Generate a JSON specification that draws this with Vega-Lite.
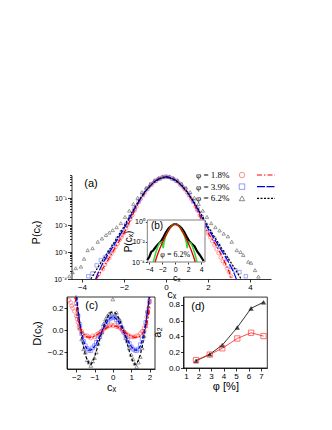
{
"$schema":"https://vega.github.io/schema/vega-lite/v6.json",
"width":332,"height":430,"padding":0,"autosize":{"type":"none"},
"config":{"view":{"stroke":null},"font":"Liberation Sans",
"axis":{"grid":false,"domainColor":"#000","tickColor":"#000","labelColor":"#000","titleColor":"#000","labelFont":"Liberation Sans","titleFont":"Liberation Sans","titleFontWeight":"normal","labelFontSize":8,"titleFontSize":11,"tickSize":3,"labelPadding":1,"domainWidth":0.8,"tickWidth":0.8}},
"datasets":{
"aPts":[
{"c":-3.2,"p":0.00015,"s":"1.8"},{"c":-3.0,"p":0.00023,"s":"1.8"},{"c":-2.9,"p":0.00034,"s":"1.8"},{"c":-2.8,"p":0.0005,"s":"1.8"},{"c":-2.7,"p":0.0006,"s":"1.8"},{"c":-2.6,"p":0.00083,"s":"1.8"},{"c":-2.5,"p":0.0011,"s":"1.8"},{"c":-2.4,"p":0.0015,"s":"1.8"},{"c":-2.3,"p":0.002,"s":"1.8"},{"c":-2.2,"p":0.0028,"s":"1.8"},{"c":-2.1,"p":0.0037,"s":"1.8"},{"c":-2.0,"p":0.005,"s":"1.8"},{"c":-1.9,"p":0.0075,"s":"1.8"},{"c":-1.8,"p":0.0105,"s":"1.8"},{"c":-1.7,"p":0.016,"s":"1.8"},{"c":-1.6,"p":0.023,"s":"1.8"},{"c":-1.5,"p":0.034,"s":"1.8"},{"c":-1.4,"p":0.048,"s":"1.8"},{"c":-1.2,"p":0.091,"s":"1.8"},{"c":-1.0,"p":0.158,"s":"1.8"},{"c":-0.8,"p":0.257,"s":"1.8"},{"c":-0.6,"p":0.372,"s":"1.8"},{"c":-0.4,"p":0.49,"s":"1.8"},{"c":-0.2,"p":0.589,"s":"1.8"},{"c":0,"p":0.631,"s":"1.8"},{"c":0.2,"p":0.589,"s":"1.8"},{"c":0.4,"p":0.49,"s":"1.8"},{"c":0.6,"p":0.372,"s":"1.8"},{"c":0.8,"p":0.257,"s":"1.8"},{"c":1.0,"p":0.158,"s":"1.8"},{"c":1.2,"p":0.091,"s":"1.8"},{"c":1.4,"p":0.048,"s":"1.8"},{"c":1.5,"p":0.034,"s":"1.8"},{"c":1.6,"p":0.023,"s":"1.8"},{"c":1.7,"p":0.0155,"s":"1.8"},{"c":1.8,"p":0.0102,"s":"1.8"},{"c":1.9,"p":0.007,"s":"1.8"},{"c":2.0,"p":0.0048,"s":"1.8"},{"c":2.1,"p":0.0035,"s":"1.8"},{"c":2.2,"p":0.0025,"s":"1.8"},{"c":2.3,"p":0.0018,"s":"1.8"},{"c":2.4,"p":0.00126,"s":"1.8"},{"c":2.5,"p":0.0009,"s":"1.8"},{"c":2.6,"p":0.00063,"s":"1.8"},{"c":2.7,"p":0.00046,"s":"1.8"},{"c":2.8,"p":0.00036,"s":"1.8"},{"c":2.9,"p":0.00025,"s":"1.8"},{"c":3.0,"p":0.00018,"s":"1.8"},{"c":3.1,"p":0.000126,"s":"1.8"},
{"c":-3.7,"p":0.000126,"s":"3.9"},{"c":-3.5,"p":0.00016,"s":"3.9"},{"c":-3.3,"p":0.00032,"s":"3.9"},{"c":-3.1,"p":0.0005,"s":"3.9"},{"c":-2.9,"p":0.00063,"s":"3.9"},{"c":-2.7,"p":0.001,"s":"3.9"},{"c":-2.5,"p":0.0017,"s":"3.9"},{"c":-2.3,"p":0.0031,"s":"3.9"},{"c":-2.1,"p":0.0055,"s":"3.9"},{"c":-1.9,"p":0.0102,"s":"3.9"},{"c":-1.7,"p":0.02,"s":"3.9"},{"c":-1.5,"p":0.0398,"s":"3.9"},{"c":-1.3,"p":0.0741,"s":"3.9"},{"c":-1.1,"p":0.129,"s":"3.9"},{"c":-0.9,"p":0.214,"s":"3.9"},{"c":-0.7,"p":0.316,"s":"3.9"},{"c":-0.5,"p":0.437,"s":"3.9"},{"c":-0.3,"p":0.525,"s":"3.9"},{"c":-0.1,"p":0.603,"s":"3.9"},{"c":0.1,"p":0.603,"s":"3.9"},{"c":0.3,"p":0.525,"s":"3.9"},{"c":0.5,"p":0.437,"s":"3.9"},{"c":0.7,"p":0.316,"s":"3.9"},{"c":0.9,"p":0.214,"s":"3.9"},{"c":1.1,"p":0.129,"s":"3.9"},{"c":1.3,"p":0.0741,"s":"3.9"},{"c":1.5,"p":0.0398,"s":"3.9"},{"c":1.7,"p":0.02,"s":"3.9"},{"c":1.9,"p":0.0102,"s":"3.9"},{"c":2.1,"p":0.0055,"s":"3.9"},{"c":2.3,"p":0.0031,"s":"3.9"},{"c":2.5,"p":0.0017,"s":"3.9"},{"c":2.7,"p":0.00098,"s":"3.9"},{"c":2.9,"p":0.00054,"s":"3.9"},{"c":3.1,"p":0.00028,"s":"3.9"},{"c":3.3,"p":0.00021,"s":"3.9"},{"c":3.5,"p":0.00018,"s":"3.9"},{"c":3.8,"p":0.000126,"s":"3.9"},
{"c":-4.6,"p":0.000126,"s":"6.2"},{"c":-4.45,"p":0.000178,"s":"6.2"},{"c":-4.3,"p":0.000251,"s":"6.2"},{"c":-4.05,"p":0.000288,"s":"6.2"},{"c":-3.9,"p":0.000562,"s":"6.2"},{"c":-3.73,"p":0.00117,"s":"6.2"},{"c":-3.5,"p":0.00138,"s":"6.2"},{"c":-3.25,"p":0.0024,"s":"6.2"},{"c":-3.05,"p":0.00316,"s":"6.2"},{"c":-2.86,"p":0.00427,"s":"6.2"},{"c":-2.7,"p":0.00525,"s":"6.2"},{"c":-2.54,"p":0.00646,"s":"6.2"},{"c":-2.35,"p":0.00832,"s":"6.2"},{"c":-2.15,"p":0.0117,"s":"6.2"},{"c":-1.95,"p":0.02,"s":"6.2"},{"c":-1.75,"p":0.0339,"s":"6.2"},{"c":-1.55,"p":0.0603,"s":"6.2"},{"c":-1.35,"p":0.102,"s":"6.2"},{"c":-1.15,"p":0.166,"s":"6.2"},{"c":-0.95,"p":0.24,"s":"6.2"},{"c":-0.75,"p":0.331,"s":"6.2"},{"c":-0.55,"p":0.437,"s":"6.2"},{"c":-0.35,"p":0.537,"s":"6.2"},{"c":-0.15,"p":0.603,"s":"6.2"},{"c":0.15,"p":0.603,"s":"6.2"},{"c":0.35,"p":0.537,"s":"6.2"},{"c":0.55,"p":0.437,"s":"6.2"},{"c":0.75,"p":0.331,"s":"6.2"},{"c":0.95,"p":0.24,"s":"6.2"},{"c":1.15,"p":0.166,"s":"6.2"},{"c":1.35,"p":0.102,"s":"6.2"},{"c":1.55,"p":0.0603,"s":"6.2"},{"c":1.75,"p":0.0339,"s":"6.2"},{"c":1.95,"p":0.02,"s":"6.2"},{"c":2.15,"p":0.0117,"s":"6.2"},{"c":2.35,"p":0.00832,"s":"6.2"},{"c":2.55,"p":0.00631,"s":"6.2"},{"c":2.75,"p":0.00479,"s":"6.2"},{"c":2.95,"p":0.0038,"s":"6.2"},{"c":3.13,"p":0.0024,"s":"6.2"},{"c":3.37,"p":0.00117,"s":"6.2"},{"c":3.55,"p":0.001,"s":"6.2"},{"c":3.68,"p":0.000776,"s":"6.2"},{"c":3.92,"p":0.000437,"s":"6.2"},{"c":4.05,"p":0.000398,"s":"6.2"},{"c":4.24,"p":0.000214,"s":"6.2"},{"c":4.4,"p":0.000123,"s":"6.2"}
],
"aLines":[
{"c":-3.32,"p":0.0001,"s":"1.8"},{"c":-3.25,"p":0.00012,"s":"1.8"},{"c":-3.0,"p":0.000251,"s":"1.8"},{"c":-2.75,"p":0.000525,"s":"1.8"},{"c":-2.5,"p":0.00112,"s":"1.8"},{"c":-2.25,"p":0.0024,"s":"1.8"},{"c":-2.0,"p":0.00501,"s":"1.8"},{"c":-1.75,"p":0.0126,"s":"1.8"},{"c":-1.5,"p":0.0339,"s":"1.8"},{"c":-1.25,"p":0.0794,"s":"1.8"},{"c":-1.0,"p":0.158,"s":"1.8"},{"c":-0.75,"p":0.282,"s":"1.8"},{"c":-0.5,"p":0.437,"s":"1.8"},{"c":-0.25,"p":0.562,"s":"1.8"},{"c":0,"p":0.631,"s":"1.8"},{"c":0.25,"p":0.562,"s":"1.8"},{"c":0.5,"p":0.437,"s":"1.8"},{"c":0.75,"p":0.282,"s":"1.8"},{"c":1.0,"p":0.158,"s":"1.8"},{"c":1.25,"p":0.0794,"s":"1.8"},{"c":1.5,"p":0.0339,"s":"1.8"},{"c":1.75,"p":0.0126,"s":"1.8"},{"c":2.0,"p":0.00501,"s":"1.8"},{"c":2.25,"p":0.0026,"s":"1.8"},{"c":2.5,"p":0.00126,"s":"1.8"},{"c":2.75,"p":0.0005,"s":"1.8"},{"c":3.0,"p":0.00019,"s":"1.8"},{"c":3.12,"p":0.0001,"s":"1.8"},
{"c":-3.35,"p":0.0001,"s":"3.9"},{"c":-3.25,"p":0.000158,"s":"3.9"},{"c":-3.0,"p":0.000398,"s":"3.9"},{"c":-2.75,"p":0.000851,"s":"3.9"},{"c":-2.5,"p":0.0017,"s":"3.9"},{"c":-2.25,"p":0.00355,"s":"3.9"},{"c":-2.0,"p":0.00741,"s":"3.9"},{"c":-1.75,"p":0.017,"s":"3.9"},{"c":-1.5,"p":0.0398,"s":"3.9"},{"c":-1.25,"p":0.0851,"s":"3.9"},{"c":-1.0,"p":0.17,"s":"3.9"},{"c":-0.75,"p":0.288,"s":"3.9"},{"c":-0.5,"p":0.437,"s":"3.9"},{"c":-0.25,"p":0.55,"s":"3.9"},{"c":0,"p":0.617,"s":"3.9"},{"c":0.25,"p":0.55,"s":"3.9"},{"c":0.5,"p":0.437,"s":"3.9"},{"c":0.75,"p":0.288,"s":"3.9"},{"c":1.0,"p":0.17,"s":"3.9"},{"c":1.25,"p":0.0851,"s":"3.9"},{"c":1.5,"p":0.0398,"s":"3.9"},{"c":1.75,"p":0.017,"s":"3.9"},{"c":2.0,"p":0.00741,"s":"3.9"},{"c":2.25,"p":0.00355,"s":"3.9"},{"c":2.5,"p":0.0017,"s":"3.9"},{"c":2.75,"p":0.000851,"s":"3.9"},{"c":3.0,"p":0.000398,"s":"3.9"},{"c":3.25,"p":0.000158,"s":"3.9"},{"c":3.35,"p":0.0001,"s":"3.9"},
{"c":-3.58,"p":0.0001,"s":"6.2"},{"c":-3.5,"p":0.000126,"s":"6.2"},{"c":-3.25,"p":0.000263,"s":"6.2"},{"c":-3.0,"p":0.000525,"s":"6.2"},{"c":-2.75,"p":0.00105,"s":"6.2"},{"c":-2.5,"p":0.00209,"s":"6.2"},{"c":-2.25,"p":0.00427,"s":"6.2"},{"c":-2.0,"p":0.00891,"s":"6.2"},{"c":-1.75,"p":0.02,"s":"6.2"},{"c":-1.5,"p":0.0437,"s":"6.2"},{"c":-1.25,"p":0.0912,"s":"6.2"},{"c":-1.0,"p":0.174,"s":"6.2"},{"c":-0.75,"p":0.288,"s":"6.2"},{"c":-0.5,"p":0.427,"s":"6.2"},{"c":-0.25,"p":0.537,"s":"6.2"},{"c":0,"p":0.603,"s":"6.2"},{"c":0.25,"p":0.537,"s":"6.2"},{"c":0.5,"p":0.427,"s":"6.2"},{"c":0.75,"p":0.288,"s":"6.2"},{"c":1.0,"p":0.174,"s":"6.2"},{"c":1.25,"p":0.0912,"s":"6.2"},{"c":1.5,"p":0.0437,"s":"6.2"},{"c":1.75,"p":0.02,"s":"6.2"},{"c":2.0,"p":0.00891,"s":"6.2"},{"c":2.25,"p":0.00427,"s":"6.2"},{"c":2.5,"p":0.00209,"s":"6.2"},{"c":2.75,"p":0.00105,"s":"6.2"},{"c":3.0,"p":0.000525,"s":"6.2"},{"c":3.25,"p":0.000263,"s":"6.2"},{"c":3.5,"p":0.000126,"s":"6.2"},{"c":3.58,"p":0.0001,"s":"6.2"}
],
"legend":[{"row":1,"s":"1.8","label":"φ = 1.8%"},{"row":2,"s":"3.9","label":"φ = 3.9%"},{"row":3,"s":"6.2","label":"φ = 6.2%"}],
"bBlack":[{"c":-4.3,"p":0.000158},{"c":-4.0,"p":0.000316},{"c":-3.7,"p":0.001},{"c":-3.4,"p":0.00141},{"c":-3.0,"p":0.00316},{"c":-2.6,"p":0.00631},{"c":-2.2,"p":0.0112},{"c":-1.8,"p":0.0316},{"c":-1.4,"p":0.1},{"c":-1.0,"p":0.24},{"c":-0.6,"p":0.417},{"c":-0.2,"p":0.603},{"c":0,"p":0.631},{"c":0.2,"p":0.603},{"c":0.6,"p":0.417},{"c":1.0,"p":0.24},{"c":1.4,"p":0.1},{"c":1.8,"p":0.0316},{"c":2.2,"p":0.0112},{"c":2.6,"p":0.00631},{"c":3.0,"p":0.00355},{"c":3.4,"p":0.00112},{"c":3.8,"p":0.000501},{"c":4.2,"p":0.0002},{"c":4.4,"p":0.000126}],
"bRed":[{"c":-3.1,"p":0.0001},{"c":-2.8,"p":0.000398},{"c":-2.4,"p":0.002},{"c":-2.0,"p":0.00794},{"c":-1.6,"p":0.0282},{"c":-1.2,"p":0.0891},{"c":-0.8,"p":0.24},{"c":-0.4,"p":0.479},{"c":0,"p":0.631},{"c":0.4,"p":0.479},{"c":0.8,"p":0.24},{"c":1.2,"p":0.0891},{"c":1.6,"p":0.0282},{"c":2.0,"p":0.00794},{"c":2.4,"p":0.002},{"c":2.8,"p":0.000398},{"c":3.1,"p":0.0001}],
"bGreen":[{"c":-3.4,"p":0.0001},{"c":-3.3,"p":0.000158},{"c":-3.0,"p":0.000794},{"c":-2.7,"p":0.00316},{"c":-2.4,"p":0.00794},{"c":-2.1,"p":0.01},{"c":-1.95,"p":0.00631},{"c":-1.85,"p":0.00251},{"c":-1.7,"p":0.01},{"c":-1.5,"p":0.0316},{"c":-1.2,"p":0.0891},{"c":-0.8,"p":0.251},{"c":-0.4,"p":0.5},{"c":0,"p":0.631},{"c":0.4,"p":0.5},{"c":0.8,"p":0.251},{"c":1.2,"p":0.0891},{"c":1.5,"p":0.0316},{"c":1.7,"p":0.01},{"c":1.85,"p":0.00251},{"c":1.95,"p":0.00631},{"c":2.1,"p":0.01},{"c":2.4,"p":0.00794},{"c":2.7,"p":0.00316},{"c":3.0,"p":0.000794},{"c":3.3,"p":0.000158},{"c":3.4,"p":0.0001}],
"cPts":[
{"c":-2.0,"d":0.3,"s":"6.2"},{"c":-1.9,"d":0.15,"s":"6.2"},{"c":-1.8,"d":0.02,"s":"6.2"},{"c":-1.7,"d":-0.08,"s":"6.2"},{"c":-1.6,"d":-0.17,"s":"6.2"},{"c":-1.5,"d":-0.2,"s":"6.2"},{"c":-1.4,"d":-0.27,"s":"6.2"},{"c":-1.3,"d":-0.29,"s":"6.2"},{"c":-1.2,"d":-0.32,"s":"6.2"},{"c":-1.1,"d":-0.28,"s":"6.2"},{"c":-1.0,"d":-0.25,"s":"6.2"},{"c":-0.9,"d":-0.2,"s":"6.2"},{"c":-0.8,"d":-0.12,"s":"6.2"},{"c":-0.7,"d":-0.06,"s":"6.2"},{"c":-0.6,"d":-0.02,"s":"6.2"},{"c":-0.5,"d":0.06,"s":"6.2"},{"c":-0.4,"d":0.1,"s":"6.2"},{"c":-0.3,"d":0.13,"s":"6.2"},{"c":-0.2,"d":0.15,"s":"6.2"},{"c":-0.1,"d":0.16,"s":"6.2"},{"c":0,"d":0.28,"s":"6.2"},{"c":0.1,"d":0.14,"s":"6.2"},{"c":0.2,"d":0.16,"s":"6.2"},{"c":0.3,"d":0.11,"s":"6.2"},{"c":0.4,"d":0.09,"s":"6.2"},{"c":0.5,"d":0.03,"s":"6.2"},{"c":0.6,"d":-0.01,"s":"6.2"},{"c":0.7,"d":-0.07,"s":"6.2"},{"c":0.8,"d":-0.1,"s":"6.2"},{"c":0.9,"d":-0.16,"s":"6.2"},{"c":1.0,"d":-0.22,"s":"6.2"},{"c":1.1,"d":-0.26,"s":"6.2"},{"c":1.2,"d":-0.3,"s":"6.2"},{"c":1.3,"d":-0.33,"s":"6.2"},{"c":1.4,"d":-0.29,"s":"6.2"},{"c":1.5,"d":-0.24,"s":"6.2"},{"c":1.6,"d":-0.16,"s":"6.2"},{"c":1.7,"d":-0.05,"s":"6.2"},{"c":1.8,"d":0.04,"s":"6.2"},{"c":1.9,"d":0.17,"s":"6.2"},
{"c":-2.0,"d":0.24,"s":"3.9"},{"c":-1.9,"d":0.13,"s":"3.9"},{"c":-1.8,"d":0.05,"s":"3.9"},{"c":-1.7,"d":-0.03,"s":"3.9"},{"c":-1.6,"d":-0.1,"s":"3.9"},{"c":-1.5,"d":-0.14,"s":"3.9"},{"c":-1.4,"d":-0.165,"s":"3.9"},{"c":-1.3,"d":-0.18,"s":"3.9"},{"c":-1.2,"d":-0.185,"s":"3.9"},{"c":-1.1,"d":-0.16,"s":"3.9"},{"c":-1.0,"d":-0.14,"s":"3.9"},{"c":-0.9,"d":-0.11,"s":"3.9"},{"c":-0.8,"d":-0.08,"s":"3.9"},{"c":-0.7,"d":-0.04,"s":"3.9"},{"c":-0.6,"d":-0.01,"s":"3.9"},{"c":-0.5,"d":0.03,"s":"3.9"},{"c":-0.4,"d":0.055,"s":"3.9"},{"c":-0.3,"d":0.08,"s":"3.9"},{"c":-0.2,"d":0.1,"s":"3.9"},{"c":-0.1,"d":0.11,"s":"3.9"},{"c":0,"d":0.12,"s":"3.9"},{"c":0.1,"d":0.115,"s":"3.9"},{"c":0.2,"d":0.095,"s":"3.9"},{"c":0.3,"d":0.075,"s":"3.9"},{"c":0.4,"d":0.05,"s":"3.9"},{"c":0.5,"d":0.015,"s":"3.9"},{"c":0.6,"d":-0.02,"s":"3.9"},{"c":0.7,"d":-0.05,"s":"3.9"},{"c":0.8,"d":-0.09,"s":"3.9"},{"c":0.9,"d":-0.12,"s":"3.9"},{"c":1.0,"d":-0.15,"s":"3.9"},{"c":1.1,"d":-0.17,"s":"3.9"},{"c":1.2,"d":-0.18,"s":"3.9"},{"c":1.3,"d":-0.185,"s":"3.9"},{"c":1.4,"d":-0.17,"s":"3.9"},{"c":1.5,"d":-0.13,"s":"3.9"},{"c":1.6,"d":-0.08,"s":"3.9"},{"c":1.7,"d":-0.01,"s":"3.9"},{"c":1.8,"d":0.07,"s":"3.9"},{"c":1.9,"d":0.16,"s":"3.9"},{"c":2.0,"d":0.26,"s":"3.9"},
{"c":-2.4,"d":0.27,"s":"1.8"},{"c":-2.3,"d":0.25,"s":"1.8"},{"c":-2.25,"d":0.22,"s":"1.8"},{"c":-2.2,"d":0.2,"s":"1.8"},{"c":-2.1,"d":0.17,"s":"1.8"},{"c":-2.0,"d":0.13,"s":"1.8"},{"c":-1.95,"d":0.1,"s":"1.8"},{"c":-1.9,"d":0.07,"s":"1.8"},{"c":-1.85,"d":0.03,"s":"1.8"},{"c":-1.8,"d":0.01,"s":"1.8"},{"c":-1.7,"d":-0.01,"s":"1.8"},{"c":-1.6,"d":-0.04,"s":"1.8"},{"c":-1.5,"d":-0.05,"s":"1.8"},{"c":-1.4,"d":-0.05,"s":"1.8"},{"c":-1.3,"d":-0.06,"s":"1.8"},{"c":-1.2,"d":-0.07,"s":"1.8"},{"c":-1.1,"d":-0.05,"s":"1.8"},{"c":-1.0,"d":-0.06,"s":"1.8"},{"c":-0.9,"d":-0.04,"s":"1.8"},{"c":-0.8,"d":-0.03,"s":"1.8"},{"c":-0.7,"d":-0.02,"s":"1.8"},{"c":-0.6,"d":-0.01,"s":"1.8"},{"c":-0.5,"d":0.01,"s":"1.8"},{"c":-0.4,"d":0.02,"s":"1.8"},{"c":-0.3,"d":0.03,"s":"1.8"},{"c":-0.2,"d":0.04,"s":"1.8"},{"c":-0.1,"d":0.05,"s":"1.8"},{"c":0,"d":0.04,"s":"1.8"},{"c":0.1,"d":0.05,"s":"1.8"},{"c":0.2,"d":0.03,"s":"1.8"},{"c":0.3,"d":0.03,"s":"1.8"},{"c":0.4,"d":0.02,"s":"1.8"},{"c":0.5,"d":0.0,"s":"1.8"},{"c":0.6,"d":-0.01,"s":"1.8"},{"c":0.7,"d":-0.03,"s":"1.8"},{"c":0.8,"d":-0.04,"s":"1.8"},{"c":0.9,"d":-0.05,"s":"1.8"},{"c":1.0,"d":-0.06,"s":"1.8"},{"c":1.1,"d":-0.06,"s":"1.8"},{"c":1.2,"d":-0.06,"s":"1.8"},{"c":1.3,"d":-0.05,"s":"1.8"},{"c":1.4,"d":-0.05,"s":"1.8"},{"c":1.5,"d":-0.03,"s":"1.8"},{"c":1.6,"d":-0.01,"s":"1.8"},{"c":1.7,"d":0.02,"s":"1.8"},{"c":1.8,"d":0.05,"s":"1.8"},{"c":1.85,"d":0.12,"s":"1.8"},{"c":1.9,"d":0.17,"s":"1.8"},{"c":1.95,"d":0.2,"s":"1.8"}
],
"cLines":[
{"c":-1.98,"d":0.3,"s":"6.2"},{"c":-1.9,"d":0.18,"s":"6.2"},{"c":-1.8,"d":0.05,"s":"6.2"},{"c":-1.7,"d":-0.06,"s":"6.2"},{"c":-1.6,"d":-0.15,"s":"6.2"},{"c":-1.5,"d":-0.22,"s":"6.2"},{"c":-1.4,"d":-0.27,"s":"6.2"},{"c":-1.3,"d":-0.3,"s":"6.2"},{"c":-1.2,"d":-0.31,"s":"6.2"},{"c":-1.1,"d":-0.285,"s":"6.2"},{"c":-1.0,"d":-0.245,"s":"6.2"},{"c":-0.9,"d":-0.19,"s":"6.2"},{"c":-0.8,"d":-0.13,"s":"6.2"},{"c":-0.7,"d":-0.07,"s":"6.2"},{"c":-0.6,"d":-0.015,"s":"6.2"},{"c":-0.5,"d":0.035,"s":"6.2"},{"c":-0.4,"d":0.08,"s":"6.2"},{"c":-0.3,"d":0.115,"s":"6.2"},{"c":-0.2,"d":0.145,"s":"6.2"},{"c":-0.1,"d":0.16,"s":"6.2"},{"c":0,"d":0.165,"s":"6.2"},{"c":0.1,"d":0.16,"s":"6.2"},{"c":0.2,"d":0.145,"s":"6.2"},{"c":0.3,"d":0.115,"s":"6.2"},{"c":0.4,"d":0.08,"s":"6.2"},{"c":0.5,"d":0.035,"s":"6.2"},{"c":0.6,"d":-0.015,"s":"6.2"},{"c":0.7,"d":-0.07,"s":"6.2"},{"c":0.8,"d":-0.13,"s":"6.2"},{"c":0.9,"d":-0.19,"s":"6.2"},{"c":1.0,"d":-0.245,"s":"6.2"},{"c":1.1,"d":-0.285,"s":"6.2"},{"c":1.2,"d":-0.31,"s":"6.2"},{"c":1.3,"d":-0.3,"s":"6.2"},{"c":1.4,"d":-0.27,"s":"6.2"},{"c":1.5,"d":-0.22,"s":"6.2"},{"c":1.6,"d":-0.15,"s":"6.2"},{"c":1.7,"d":-0.06,"s":"6.2"},{"c":1.8,"d":0.05,"s":"6.2"},{"c":1.9,"d":0.18,"s":"6.2"},{"c":1.98,"d":0.3,"s":"6.2"},
{"c":-1.99,"d":0.3,"s":"3.9"},{"c":-1.9,"d":0.18,"s":"3.9"},{"c":-1.8,"d":0.07,"s":"3.9"},{"c":-1.7,"d":-0.02,"s":"3.9"},{"c":-1.6,"d":-0.09,"s":"3.9"},{"c":-1.5,"d":-0.14,"s":"3.9"},{"c":-1.4,"d":-0.17,"s":"3.9"},{"c":-1.3,"d":-0.18,"s":"3.9"},{"c":-1.2,"d":-0.18,"s":"3.9"},{"c":-1.1,"d":-0.165,"s":"3.9"},{"c":-1.0,"d":-0.145,"s":"3.9"},{"c":-0.9,"d":-0.12,"s":"3.9"},{"c":-0.8,"d":-0.085,"s":"3.9"},{"c":-0.7,"d":-0.05,"s":"3.9"},{"c":-0.6,"d":-0.015,"s":"3.9"},{"c":-0.5,"d":0.02,"s":"3.9"},{"c":-0.4,"d":0.05,"s":"3.9"},{"c":-0.3,"d":0.08,"s":"3.9"},{"c":-0.2,"d":0.1,"s":"3.9"},{"c":-0.1,"d":0.115,"s":"3.9"},{"c":0,"d":0.12,"s":"3.9"},{"c":0.1,"d":0.115,"s":"3.9"},{"c":0.2,"d":0.1,"s":"3.9"},{"c":0.3,"d":0.08,"s":"3.9"},{"c":0.4,"d":0.05,"s":"3.9"},{"c":0.5,"d":0.02,"s":"3.9"},{"c":0.6,"d":-0.015,"s":"3.9"},{"c":0.7,"d":-0.05,"s":"3.9"},{"c":0.8,"d":-0.085,"s":"3.9"},{"c":0.9,"d":-0.12,"s":"3.9"},{"c":1.0,"d":-0.145,"s":"3.9"},{"c":1.1,"d":-0.165,"s":"3.9"},{"c":1.2,"d":-0.18,"s":"3.9"},{"c":1.3,"d":-0.18,"s":"3.9"},{"c":1.4,"d":-0.17,"s":"3.9"},{"c":1.5,"d":-0.14,"s":"3.9"},{"c":1.6,"d":-0.09,"s":"3.9"},{"c":1.7,"d":-0.02,"s":"3.9"},{"c":1.8,"d":0.07,"s":"3.9"},{"c":1.9,"d":0.18,"s":"3.9"},{"c":1.99,"d":0.3,"s":"3.9"},
{"c":-2.05,"d":0.3,"s":"1.8"},{"c":-2.0,"d":0.22,"s":"1.8"},{"c":-1.9,"d":0.09,"s":"1.8"},{"c":-1.8,"d":0.025,"s":"1.8"},{"c":-1.7,"d":-0.01,"s":"1.8"},{"c":-1.6,"d":-0.035,"s":"1.8"},{"c":-1.5,"d":-0.05,"s":"1.8"},{"c":-1.4,"d":-0.06,"s":"1.8"},{"c":-1.2,"d":-0.065,"s":"1.8"},{"c":-1.0,"d":-0.055,"s":"1.8"},{"c":-0.8,"d":-0.035,"s":"1.8"},{"c":-0.6,"d":-0.01,"s":"1.8"},{"c":-0.4,"d":0.015,"s":"1.8"},{"c":-0.2,"d":0.035,"s":"1.8"},{"c":0,"d":0.04,"s":"1.8"},{"c":0.2,"d":0.035,"s":"1.8"},{"c":0.4,"d":0.015,"s":"1.8"},{"c":0.6,"d":-0.01,"s":"1.8"},{"c":0.8,"d":-0.035,"s":"1.8"},{"c":1.0,"d":-0.055,"s":"1.8"},{"c":1.2,"d":-0.065,"s":"1.8"},{"c":1.4,"d":-0.06,"s":"1.8"},{"c":1.5,"d":-0.05,"s":"1.8"},{"c":1.6,"d":-0.035,"s":"1.8"},{"c":1.7,"d":-0.01,"s":"1.8"},{"c":1.8,"d":0.025,"s":"1.8"},{"c":1.9,"d":0.09,"s":"1.8"},{"c":2.0,"d":0.22,"s":"1.8"},{"c":2.05,"d":0.3,"s":"1.8"}
],
"dTri":[{"phi":1.8,"a2":0.09},{"phi":2.9,"a2":0.175},{"phi":3.9,"a2":0.29},{"phi":5.1,"a2":0.515},{"phi":6.2,"a2":0.757},{"phi":7.2,"a2":0.835}],
"dSq":[{"phi":1.8,"a2":0.1},{"phi":2.9,"a2":0.17},{"phi":3.9,"a2":0.25},{"phi":5.1,"a2":0.375},{"phi":6.2,"a2":0.447},{"phi":7.2,"a2":0.405}]
},
"layer":[
{"layer":[
 {"data":{"name":"aPts"},"mark":{"type":"point","filled":false,"size":12,"strokeWidth":0.7},
  "encoding":{"x":{"field":"c","type":"quantitative","scale":{"domain":[-4.5,5],"range":[71.5,271],"nice":false,"zero":false},
    "axis":{"orient":"bottom","offset":-151,"values":[-4,-2,0,2,4],"title":"cₓ","titleFontSize":11,"titlePadding":-3}},
   "y":{"field":"p","type":"quantitative","scale":{"type":"log","domain":[0.0001,0.7],"range":[279,175.2],"nice":false},
    "axis":{"orient":"left","offset":-71.5,"title":"P(cₓ)","titleFontSize":11,"titleX":-30,"titleY":232,"labelOverlap":false,"labelFontSize":7,
     "values":[0.0001,0.0002,0.0003,0.0004,0.0005,0.0006,0.0007,0.0008,0.0009,0.001,0.002,0.003,0.004,0.005,0.006,0.007,0.008,0.009,0.01,0.02,0.03,0.04,0.05,0.06,0.07,0.08,0.09,0.1,0.2,0.3,0.4,0.5,0.6,0.7],
     "labelExpr":"datum.value == 0.1 ? '10⁻¹' : datum.value == 0.01 ? '10⁻²' : datum.value == 0.001 ? '10⁻³' : datum.value == 0.0001 ? '10⁻⁴' : ''",
     "tickSize":{"condition":{"test":"datum.value == 0.1 || datum.value == 0.01 || datum.value == 0.001 || datum.value == 0.0001","value":4},"value":2}}},
   "shape":{"field":"s","type":"nominal","scale":{"domain":["1.8","3.9","6.2"],"range":["circle","square","triangle-up"]},"legend":null},
   "stroke":{"field":"s","type":"nominal","scale":{"domain":["1.8","3.9","6.2"],"range":["#ff3b3b","#3d4dff","#333333"]},"legend":null}}},
 {"data":{"name":"aLines"},"mark":{"type":"line","strokeWidth":1.2},
  "encoding":{"x":{"field":"c","type":"quantitative"},"y":{"field":"p","type":"quantitative"},
   "color":{"field":"s","type":"nominal","scale":{"domain":["1.8","3.9","6.2"],"range":["#ff0000","#0000e6","#000000"]},"legend":null},
   "strokeDash":{"field":"s","type":"nominal","scale":{"domain":["1.8","3.9","6.2"],"range":[[5,2,1.5,2],[8,1.5],[2,1.5]]},"legend":null}}},
 {"data":{"values":[{"t":"(a)"}]},"mark":{"type":"text","fontSize":11,"font":"Liberation Sans","align":"center","baseline":"middle"},
  "encoding":{"x":{"datum":-3.57,"type":"quantitative"},"y":{"datum":0.33,"type":"quantitative"},"text":{"field":"t"}}}
]},
{"layer":[
 {"data":{"name":"legend"},"mark":{"type":"text","font":"Liberation Serif","fontSize":9,"align":"left","baseline":"middle"},
  "encoding":{"x":{"datum":0,"type":"quantitative","scale":{"domain":[0,80],"range":[196,276],"nice":false,"zero":false},"axis":null},
   "y":{"field":"row","type":"quantitative","scale":{"domain":[1,3],"range":[175,198.3],"nice":false,"zero":false},"axis":null},
   "text":{"field":"label"}}},
 {"data":{"name":"legend"},"mark":{"type":"point","filled":false,"size":30,"strokeWidth":0.8},
  "encoding":{"x":{"datum":46,"type":"quantitative"},"y":{"field":"row","type":"quantitative"},
   "shape":{"field":"s","type":"nominal","scale":{"domain":["1.8","3.9","6.2"],"range":["circle","square","triangle-up"]},"legend":null},
   "stroke":{"field":"s","type":"nominal","scale":{"domain":["1.8","3.9","6.2"],"range":["#ff3b3b","#3d4dff","#333333"]},"legend":null}}},
 {"data":{"name":"legend"},"mark":{"type":"rule","strokeWidth":1.2},
  "encoding":{"x":{"datum":61,"type":"quantitative"},"x2":{"datum":79},"y":{"field":"row","type":"quantitative"},
   "color":{"field":"s","type":"nominal","scale":{"domain":["1.8","3.9","6.2"],"range":["#ff0000","#0000e6","#000000"]},"legend":null},
   "strokeDash":{"field":"s","type":"nominal","scale":{"domain":["1.8","3.9","6.2"],"range":[[5,2,1.5,2],[8,1.5],[2,1.5]]},"legend":null}}}
]},
{"layer":[
 {"data":{"values":[{}]},"mark":{"type":"rect","fill":"#ffffff","stroke":"#808080","strokeWidth":1},
  "encoding":{"x":{"datum":-4.3,"type":"quantitative","scale":{"domain":[-4.3,4.6],"range":[147.3,205],"nice":false,"zero":false},
    "axis":{"orient":"bottom","offset":-168,"values":[-4,-2,0,2,4],"title":"cₓ","titleFontSize":9,"titlePadding":1,"labelFontSize":7,"tickSize":2,"domain":false}},
   "x2":{"datum":4.6},
   "y":{"datum":0.0001,"type":"quantitative","scale":{"type":"log","domain":[0.0001,1.58],"range":[262,220],"nice":false},
    "axis":{"orient":"left","offset":-147.3,"values":[0.0001,0.01,1],"labelExpr":"datum.value == 1 ? '10⁰' : datum.value == 0.01 ? '10⁻²' : '10⁻⁴'","title":"P(cₓ)","titleFontSize":10,"titlePadding":-2,"labelFontSize":7,"tickSize":2,"domain":false}},
   "y2":{"datum":1.58}}},
 {"data":{"name":"bBlack"},"mark":{"type":"line","color":"#000000","strokeWidth":2.2},
  "encoding":{"x":{"field":"c","type":"quantitative"},"y":{"field":"p","type":"quantitative"}}},
 {"data":{"name":"bGreen"},"mark":{"type":"line","color":"#33e033","strokeWidth":1.6},
  "encoding":{"x":{"field":"c","type":"quantitative"},"y":{"field":"p","type":"quantitative"}}},
 {"data":{"name":"bRed"},"mark":{"type":"line","color":"#e00000","strokeWidth":1.3},
  "encoding":{"x":{"field":"c","type":"quantitative"},"y":{"field":"p","type":"quantitative"}}},
 {"data":{"values":[{"t":"(b)"}]},"mark":{"type":"text","fontSize":10,"font":"Liberation Sans","align":"center","baseline":"middle"},
  "encoding":{"x":{"datum":-2.8,"type":"quantitative"},"y":{"datum":0.4,"type":"quantitative"},"text":{"field":"t"}}},
 {"data":{"values":[{"t":"φ = 6.2%"}]},"mark":{"type":"text","fontSize":8,"font":"Liberation Serif","align":"center","baseline":"middle"},
  "encoding":{"x":{"datum":0,"type":"quantitative"},"y":{"datum":0.0005,"type":"quantitative"},"text":{"field":"t"}}}
]},
{"layer":[
 {"data":{"values":[{}]},"mark":{"type":"rect","filled":false,"stroke":"#000000","strokeWidth":0.8},
  "encoding":{"x":{"datum":-2.5,"type":"quantitative","scale":{"domain":[-2.5,2.3],"range":[67,155],"nice":false,"zero":false},
    "axis":{"orient":"bottom","offset":-61,"values":[-2,-1,0,1,2],"format":"d","title":"cₓ","titleFontSize":11,"titlePadding":0}},
   "x2":{"datum":2.3},
   "y":{"datum":-0.35,"type":"quantitative","scale":{"domain":[-0.35,0.3],"range":[369,297],"nice":false,"zero":false},
    "axis":{"orient":"left","offset":-67,"values":[-0.2,0,0.2],"format":".1f","title":"D(cₓ)","titleFontSize":11,"titleX":-25,"titleY":333}},
   "y2":{"datum":0.3}}},
 {"data":{"name":"cPts"},"mark":{"type":"point","filled":false,"size":14,"strokeWidth":0.7},
  "encoding":{"x":{"field":"c","type":"quantitative"},"y":{"field":"d","type":"quantitative"},
   "shape":{"field":"s","type":"nominal","scale":{"domain":["1.8","3.9","6.2"],"range":["circle","square","triangle-up"]},"legend":null},
   "stroke":{"field":"s","type":"nominal","scale":{"domain":["1.8","3.9","6.2"],"range":["#ff3b3b","#3d4dff","#333333"]},"legend":null}}},
 {"data":{"name":"cLines"},"mark":{"type":"line","strokeWidth":1.2},
  "encoding":{"x":{"field":"c","type":"quantitative"},"y":{"field":"d","type":"quantitative"},
   "color":{"field":"s","type":"nominal","scale":{"domain":["1.8","3.9","6.2"],"range":["#ff0000","#0000e6","#000000"]},"legend":null},
   "strokeDash":{"field":"s","type":"nominal","scale":{"domain":["1.8","3.9","6.2"],"range":[[5,2,1.5,2],[4,1.5],[3,2]]},"legend":null}}},
 {"data":{"values":[{"t":"(c)"}]},"mark":{"type":"text","fontSize":11,"font":"Liberation Sans","align":"center","baseline":"middle"},
  "encoding":{"x":{"datum":-1.15,"type":"quantitative"},"y":{"datum":0.22,"type":"quantitative"},"text":{"field":"t"}}}
]},
{"layer":[
 {"data":{"values":[{}]},"mark":{"type":"rect","filled":false,"stroke":"#000000","strokeWidth":0.8},
  "encoding":{"x":{"datum":0.8,"type":"quantitative","scale":{"domain":[0.8,7.5],"range":[183.5,267.3],"nice":false,"zero":false},
    "axis":{"orient":"bottom","offset":-62,"values":[1,2,3,4,5,6,7],"title":"φ [%]","titleFontSize":11,"titlePadding":0}},
   "x2":{"datum":7.5},
   "y":{"datum":0,"type":"quantitative","scale":{"domain":[0,0.9],"range":[368,297.1],"nice":false,"zero":false},
    "axis":{"orient":"left","offset":-183.5,"values":[0,0.2,0.4,0.6,0.8],"format":".1f","title":"a₂","titleFontSize":11,"titleX":-21,"titleY":332}},
   "y2":{"datum":0.9}}},
 {"data":{"name":"dTri"},"mark":{"type":"line","color":"#000000","strokeWidth":0.8},
  "encoding":{"x":{"field":"phi","type":"quantitative"},"y":{"field":"a2","type":"quantitative"}}},
 {"data":{"name":"dSq"},"mark":{"type":"line","color":"#ff2020","strokeWidth":0.8},
  "encoding":{"x":{"field":"phi","type":"quantitative"},"y":{"field":"a2","type":"quantitative"}}},
 {"data":{"name":"dTri"},"mark":{"type":"point","shape":"triangle-up","filled":true,"color":"#000000","size":28},
  "encoding":{"x":{"field":"phi","type":"quantitative"},"y":{"field":"a2","type":"quantitative"}}},
 {"data":{"name":"dSq"},"mark":{"type":"point","shape":"square","filled":false,"color":"#ff2020","size":28,"strokeWidth":0.9},
  "encoding":{"x":{"field":"phi","type":"quantitative"},"y":{"field":"a2","type":"quantitative"}}},
 {"data":{"values":[{"t":"(d)"}]},"mark":{"type":"text","fontSize":11,"font":"Liberation Sans","align":"center","baseline":"middle"},
  "encoding":{"x":{"datum":1.96,"type":"quantitative"},"y":{"datum":0.78,"type":"quantitative"},"text":{"field":"t"}}}
]}
],
"resolve":{"scale":{"x":"independent","y":"independent","color":"independent","stroke":"independent","shape":"independent","strokeDash":"independent"},"axis":{"x":"independent","y":"independent"}}
}
